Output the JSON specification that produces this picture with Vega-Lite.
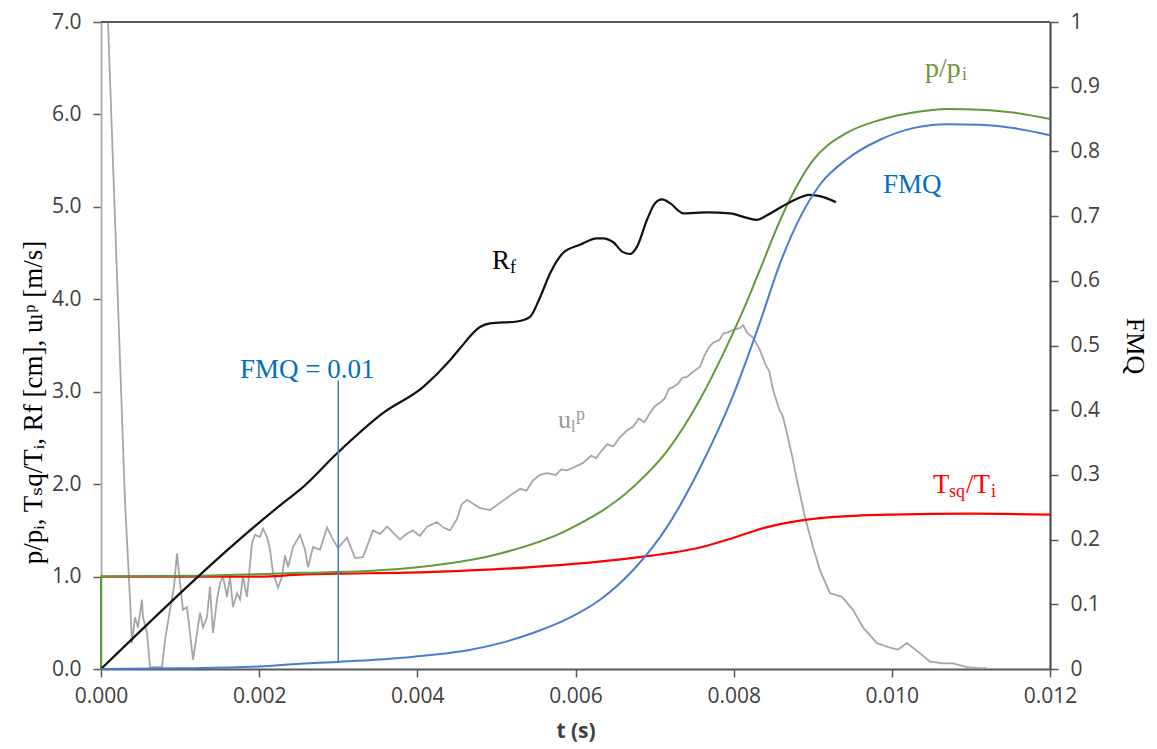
{
  "$schema": "https://vega.github.io/schema/vega-lite/v6.json",
  "width": 949,
  "height": 647,
  "autosize": {"type": "none"},
  "padding": {"left": 101, "top": 22, "right": 107, "bottom": 80},
  "background": "white",
  "config": {
    "view": {"stroke": null},
    "axisX": {
      "labelFont": "Liberation Sans Narrow, Open Sans, sans-serif",
      "labelFontSize": 21,
      "labelColor": "#404040",
      "labelFlush": false,
      "tickColor": "#595959",
      "tickWidth": 1.5,
      "tickSize": 8,
      "labelPadding": 8,
      "domainColor": "#595959",
      "domainWidth": 2,
      "titleFont": "Liberation Sans Narrow, Open Sans, sans-serif",
      "titleFontSize": 21,
      "titleFontWeight": "bold",
      "titleColor": "#404040",
      "titlePadding": 14,
      "grid": false
    },
    "axisLeft": {
      "labelFont": "Open Sans",
      "labelFontSize": 21,
      "labelColor": "#404040",
      "labelFlush": false,
      "tickColor": "#595959",
      "tickWidth": 1.5,
      "tickSize": 8,
      "labelPadding": 12,
      "domainColor": "#bfbfbf",
      "domainWidth": 2,
      "titleFont": "Liberation Serif, DejaVu Serif",
      "titleFontSize": 27,
      "titleFontWeight": "normal",
      "titleColor": "#000000",
      "titlePadding": 4,
      "grid": false
    },
    "axisRight": {
      "labelFont": "Open Sans",
      "labelFontSize": 21,
      "labelColor": "#404040",
      "labelFlush": false,
      "tickColor": "#595959",
      "tickWidth": 1.5,
      "tickSize": 8,
      "labelPadding": 12,
      "domainColor": "#404040",
      "domainWidth": 2,
      "titleFont": "Liberation Serif, DejaVu Serif",
      "titleFontSize": 26,
      "titleFontWeight": "normal",
      "titleColor": "#000000",
      "titlePadding": 22,
      "grid": false
    }
  },
  "datasets": {
    "rf": [
      {"t": 0, "v": 0}, {"t": 0.002352, "v": 1.83}, {"t": 0.002516, "v": 1.94}, {"t": 0.002993, "v": 2.34},
      {"t": 0.003568, "v": 2.77}, {"t": 0.004072, "v": 3.05}, {"t": 0.004413, "v": 3.34}, {"t": 0.00454, "v": 3.47},
      {"t": 0.004792, "v": 3.70}, {"t": 0.004919, "v": 3.74}, {"t": 0.005261, "v": 3.76}, {"t": 0.005425, "v": 3.81},
      {"t": 0.005551, "v": 4.02}, {"t": 0.005678, "v": 4.28}, {"t": 0.005842, "v": 4.50}, {"t": 0.006057, "v": 4.59},
      {"t": 0.006272, "v": 4.66}, {"t": 0.006348, "v": 4.66}, {"t": 0.006474, "v": 4.62}, {"t": 0.006601, "v": 4.51},
      {"t": 0.006689, "v": 4.49}, {"t": 0.006778, "v": 4.57}, {"t": 0.006904, "v": 4.86}, {"t": 0.007006, "v": 5.04},
      {"t": 0.007094, "v": 5.08}, {"t": 0.007195, "v": 5.04}, {"t": 0.00736, "v": 4.93}, {"t": 0.007663, "v": 4.94},
      {"t": 0.007954, "v": 4.93}, {"t": 0.008169, "v": 4.88}, {"t": 0.008295, "v": 4.86}, {"t": 0.008422, "v": 4.91},
      {"t": 0.008712, "v": 5.05}, {"t": 0.008965, "v": 5.13}, {"t": 0.009155, "v": 5.10}, {"t": 0.009294, "v": 5.05}
    ],
    "pp": [
      {"t": 0, "v": 0}, {"t": 0, "v": 1.0}, {"t": 0.00125, "v": 1.01}, {"t": 0.002516, "v": 1.04}, {"t": 0.00336, "v": 1.06},
      {"t": 0.0042, "v": 1.12}, {"t": 0.00505, "v": 1.25}, {"t": 0.00589, "v": 1.50}, {"t": 0.00673, "v": 1.97},
      {"t": 0.00716, "v": 2.36}, {"t": 0.00757, "v": 2.91}, {"t": 0.00789, "v": 3.45}, {"t": 0.00817, "v": 3.98},
      {"t": 0.00837, "v": 4.40}, {"t": 0.00855, "v": 4.78}, {"t": 0.00871, "v": 5.08}, {"t": 0.009, "v": 5.50},
      {"t": 0.00943, "v": 5.80}, {"t": 0.00985, "v": 5.94}, {"t": 0.01027, "v": 6.02}, {"t": 0.0107, "v": 6.06},
      {"t": 0.01112, "v": 6.05}, {"t": 0.01153, "v": 6.02}, {"t": 0.012, "v": 5.95}
    ],
    "tsq": [
      {"t": 0, "v": 1.0}, {"t": 0.002, "v": 1.0}, {"t": 0.0025, "v": 1.02}, {"t": 0.0042, "v": 1.05},
      {"t": 0.0054, "v": 1.10}, {"t": 0.0067, "v": 1.20}, {"t": 0.0076, "v": 1.32}, {"t": 0.008, "v": 1.42},
      {"t": 0.0084, "v": 1.53}, {"t": 0.0088, "v": 1.60}, {"t": 0.0092, "v": 1.64}, {"t": 0.01, "v": 1.67},
      {"t": 0.011, "v": 1.68}, {"t": 0.012, "v": 1.67}
    ],
    "ul": [
      {"t": 0, "v": 0}, {"t": 0, "v": 9.5}, {"t": 0.0000885, "v": 7.0}, {"t": 0.000303, "v": 1.83},
      {"t": 0.000367, "v": 0.75}, {"t": 0.000392, "v": 0.28}, {"t": 0.00043, "v": 0.56}, {"t": 0.000468, "v": 0.45},
      {"t": 0.000518, "v": 0.75}, {"t": 0.000531, "v": 0.56}, {"t": 0.000582, "v": 0.39}, {"t": 0.00062, "v": 0.02},
      {"t": 0.000771, "v": 0.02}, {"t": 0.000809, "v": 0.31}, {"t": 0.000872, "v": 0.64}, {"t": 0.000923, "v": 0.89},
      {"t": 0.000961, "v": 1.25}, {"t": 0.000999, "v": 0.93}, {"t": 0.001037, "v": 0.64}, {"t": 0.001087, "v": 0.67},
      {"t": 0.001125, "v": 0.39}, {"t": 0.001163, "v": 0.10}, {"t": 0.001214, "v": 0.39}, {"t": 0.001252, "v": 0.61},
      {"t": 0.00129, "v": 0.45}, {"t": 0.00134, "v": 0.56}, {"t": 0.001378, "v": 0.89}, {"t": 0.001416, "v": 0.39},
      {"t": 0.001467, "v": 0.75}, {"t": 0.001505, "v": 0.93}, {"t": 0.001543, "v": 1.00}, {"t": 0.001593, "v": 0.78},
      {"t": 0.001631, "v": 1.00}, {"t": 0.001669, "v": 0.67}, {"t": 0.00172, "v": 0.82}, {"t": 0.001758, "v": 0.75},
      {"t": 0.001796, "v": 1.00}, {"t": 0.001846, "v": 0.78}, {"t": 0.001909, "v": 1.36}, {"t": 0.001947, "v": 1.45},
      {"t": 0.002011, "v": 1.43}, {"t": 0.002048, "v": 1.52}, {"t": 0.002099, "v": 1.43}, {"t": 0.002137, "v": 1.29},
      {"t": 0.002175, "v": 1.04}, {"t": 0.002238, "v": 0.88}, {"t": 0.002289, "v": 1.00}, {"t": 0.002327, "v": 1.23},
      {"t": 0.002365, "v": 1.10}, {"t": 0.002428, "v": 1.32}, {"t": 0.002516, "v": 1.45}, {"t": 0.00258, "v": 1.29},
      {"t": 0.002618, "v": 1.10}, {"t": 0.002681, "v": 1.32}, {"t": 0.002769, "v": 1.29}, {"t": 0.002858, "v": 1.53},
      {"t": 0.002934, "v": 1.40}, {"t": 0.002997, "v": 1.31}, {"t": 0.003111, "v": 1.42}, {"t": 0.003212, "v": 1.20},
      {"t": 0.003313, "v": 1.21}, {"t": 0.003439, "v": 1.50}, {"t": 0.00353, "v": 1.46}, {"t": 0.003616, "v": 1.54},
      {"t": 0.0037, "v": 1.47}, {"t": 0.003781, "v": 1.40}, {"t": 0.00386, "v": 1.46}, {"t": 0.003945, "v": 1.50},
      {"t": 0.00403, "v": 1.44}, {"t": 0.004122, "v": 1.54}, {"t": 0.004249, "v": 1.59}, {"t": 0.00433, "v": 1.53},
      {"t": 0.004413, "v": 1.50}, {"t": 0.0045, "v": 1.62}, {"t": 0.00456, "v": 1.78}, {"t": 0.004628, "v": 1.83},
      {"t": 0.004792, "v": 1.74}, {"t": 0.004919, "v": 1.72}, {"t": 0.00505, "v": 1.80}, {"t": 0.00521, "v": 1.90},
      {"t": 0.0053, "v": 1.95}, {"t": 0.00538, "v": 1.93}, {"t": 0.005463, "v": 2.04}, {"t": 0.00555, "v": 2.10},
      {"t": 0.00564, "v": 2.12}, {"t": 0.00575, "v": 2.10}, {"t": 0.00582, "v": 2.16}, {"t": 0.005893, "v": 2.15},
      {"t": 0.006, "v": 2.19}, {"t": 0.006095, "v": 2.23}, {"t": 0.0062, "v": 2.31}, {"t": 0.00626, "v": 2.28},
      {"t": 0.00631, "v": 2.34}, {"t": 0.0064, "v": 2.43}, {"t": 0.00648, "v": 2.41}, {"t": 0.006563, "v": 2.51},
      {"t": 0.00665, "v": 2.58}, {"t": 0.006727, "v": 2.62}, {"t": 0.0068, "v": 2.71}, {"t": 0.00687, "v": 2.67},
      {"t": 0.006942, "v": 2.77}, {"t": 0.007, "v": 2.84}, {"t": 0.007069, "v": 2.88}, {"t": 0.00713, "v": 2.93},
      {"t": 0.00718, "v": 3.03}, {"t": 0.007233, "v": 3.05}, {"t": 0.0073, "v": 3.09}, {"t": 0.00735, "v": 3.15},
      {"t": 0.00741, "v": 3.16}, {"t": 0.00748, "v": 3.21}, {"t": 0.007574, "v": 3.27}, {"t": 0.00763, "v": 3.39},
      {"t": 0.00768, "v": 3.47}, {"t": 0.007739, "v": 3.53}, {"t": 0.00782, "v": 3.56}, {"t": 0.00787, "v": 3.63},
      {"t": 0.007916, "v": 3.64}, {"t": 0.008, "v": 3.67}, {"t": 0.00808, "v": 3.69}, {"t": 0.00812, "v": 3.72},
      {"t": 0.008169, "v": 3.64}, {"t": 0.00825, "v": 3.58}, {"t": 0.008333, "v": 3.45}, {"t": 0.0084, "v": 3.30},
      {"t": 0.00845, "v": 3.22}, {"t": 0.008497, "v": 3.02}, {"t": 0.00858, "v": 2.80}, {"t": 0.00862, "v": 2.74},
      {"t": 0.008674, "v": 2.55}, {"t": 0.00874, "v": 2.30}, {"t": 0.008801, "v": 2.04}, {"t": 0.00885, "v": 1.85},
      {"t": 0.008902, "v": 1.64}, {"t": 0.009003, "v": 1.32}, {"t": 0.009091, "v": 1.07}, {"t": 0.009218, "v": 0.82},
      {"t": 0.00937, "v": 0.78}, {"t": 0.009509, "v": 0.64}, {"t": 0.009635, "v": 0.45}, {"t": 0.009812, "v": 0.28},
      {"t": 0.009977, "v": 0.23}, {"t": 0.010078, "v": 0.21}, {"t": 0.010192, "v": 0.28}, {"t": 0.010356, "v": 0.17},
      {"t": 0.010483, "v": 0.08}, {"t": 0.010647, "v": 0.06}, {"t": 0.010773, "v": 0.06}, {"t": 0.01095, "v": 0.02},
      {"t": 0.011115, "v": 0.01}, {"t": 0.011203, "v": 0.01}
    ],
    "fmq": [
      {"t": 0, "f": 0}, {"t": 0.001, "f": 0.001}, {"t": 0.002, "f": 0.004}, {"t": 0.002516, "f": 0.008},
      {"t": 0.003, "f": 0.011}, {"t": 0.00378, "f": 0.017}, {"t": 0.0042, "f": 0.022}, {"t": 0.00464, "f": 0.029},
      {"t": 0.00505, "f": 0.040}, {"t": 0.00547, "f": 0.056}, {"t": 0.00589, "f": 0.077}, {"t": 0.00631, "f": 0.107},
      {"t": 0.00673, "f": 0.153}, {"t": 0.00716, "f": 0.220}, {"t": 0.00757, "f": 0.310}, {"t": 0.008, "f": 0.425},
      {"t": 0.00833, "f": 0.535}, {"t": 0.00859, "f": 0.628}, {"t": 0.00884, "f": 0.698}, {"t": 0.0091, "f": 0.750},
      {"t": 0.009433, "f": 0.788}, {"t": 0.00985, "f": 0.818}, {"t": 0.010268, "f": 0.836}, {"t": 0.010698, "f": 0.842},
      {"t": 0.011115, "f": 0.841}, {"t": 0.011532, "f": 0.836}, {"t": 0.012, "f": 0.825}
    ],
    "guide": [{"t": 0.003, "v0": 0.07, "v1": 3.12}],
    "labels": [
      {"id": "pp", "t": 0.010419, "v": 6.40, "label": "p/p"},
      {"id": "pp_sub", "t": 0.010419, "v": 6.40, "label": "i"},
      {"id": "fmq", "t": 0.009888, "v": 5.15, "label": "FMQ"},
      {"id": "rf", "t": 0.004944, "v": 4.33, "label": "R"},
      {"id": "rf_sub", "t": 0.004944, "v": 4.33, "label": "f"},
      {"id": "fmq01", "t": 0.001758, "v": 3.15, "label": "FMQ = 0.01"},
      {"id": "ul", "t": 0.005779, "v": 2.61, "label": "u"},
      {"id": "ul_sub", "t": 0.005779, "v": 2.61, "label": "l"},
      {"id": "ul_sup", "t": 0.005779, "v": 2.61, "label": "p"},
      {"id": "tsq_T", "t": 0.010521, "v": 1.904, "label": "T"},
      {"id": "tsq_sub", "t": 0.010521, "v": 1.904, "label": "sq"},
      {"id": "tsq_T2", "t": 0.010521, "v": 1.904, "label": "/T"},
      {"id": "tsq_i", "t": 0.010521, "v": 1.904, "label": "i"}
    ]
  },
  "layer": [
    {
      "layer": [
        {
          "data": {"name": "ul"},
          "mark": {"type": "line", "color": "#a6a6a6", "strokeWidth": 1.8, "clip": true},
          "encoding": {
            "x": {"field": "t", "type": "quantitative", "scale": {"domain": [0, 0.012], "nice": false},
                  "axis": {"title": "t (s)", "values": [0, 0.002, 0.004, 0.006, 0.008, 0.01, 0.012], "format": ".3f"}},
            "y": {"field": "v", "type": "quantitative", "scale": {"domain": [0, 7], "nice": false},
                  "axis": {"orient": "left", "title": "p/pᵢ, Tₛq/Tᵢ, Rf [cm], uₗᵖ [m/s]", "values": [0, 1, 2, 3, 4, 5, 6, 7], "format": ".1f", "titleY": 380}}
          }
        },
        {
          "data": {"name": "tsq"},
          "mark": {"type": "line", "color": "#ff0000", "strokeWidth": 2.2, "interpolate": "monotone"},
          "encoding": {
            "x": {"field": "t", "type": "quantitative", "scale": {"domain": [0, 0.012], "nice": false}},
            "y": {"field": "v", "type": "quantitative", "scale": {"domain": [0, 7], "nice": false}}
          }
        },
        {
          "data": {"name": "pp"},
          "mark": {"type": "line", "color": "#62993b", "strokeWidth": 2, "interpolate": "monotone"},
          "encoding": {
            "x": {"field": "t", "type": "quantitative", "scale": {"domain": [0, 0.012], "nice": false}},
            "y": {"field": "v", "type": "quantitative", "scale": {"domain": [0, 7], "nice": false}}
          }
        },
        {
          "data": {"name": "rf"},
          "mark": {"type": "line", "color": "#111111", "strokeWidth": 2.2, "interpolate": "monotone"},
          "encoding": {
            "x": {"field": "t", "type": "quantitative", "scale": {"domain": [0, 0.012], "nice": false}},
            "y": {"field": "v", "type": "quantitative", "scale": {"domain": [0, 7], "nice": false}}
          }
        },
        {
          "data": {"name": "guide"},
          "mark": {"type": "rule", "color": "#4a7cd0", "strokeWidth": 1.5},
          "encoding": {
            "x": {"field": "t", "type": "quantitative", "scale": {"domain": [0, 0.012], "nice": false}},
            "y": {"field": "v0", "type": "quantitative", "scale": {"domain": [0, 7], "nice": false}},
            "y2": {"field": "v1"}
          }
        },
        {
          "data": {"values": [{}]},
          "mark": {"type": "rule", "color": "#595959", "strokeWidth": 2},
          "encoding": {"y": {"datum": 7, "type": "quantitative", "scale": {"domain": [0, 7], "nice": false}}}
        },
        {
          "data": {"name": "labels"},
          "transform": [{"filter": "datum.id === 'pp'"}],
          "mark": {"type": "text", "align": "left", "baseline": "alphabetic", "font": "Liberation Serif", "fontSize": 28, "color": "#77933c"},
          "encoding": {
            "x": {"field": "t", "type": "quantitative", "scale": {"domain": [0, 0.012], "nice": false}},
            "y": {"field": "v", "type": "quantitative", "scale": {"domain": [0, 7], "nice": false}},
            "text": {"field": "label"}
          }
        },
        {
          "data": {"name": "labels"},
          "transform": [{"filter": "datum.id === 'pp_sub'"}],
          "mark": {"type": "text", "align": "left", "baseline": "alphabetic", "font": "Liberation Serif", "fontSize": 18, "color": "#77933c", "dx": 37, "dy": 3},
          "encoding": {
            "x": {"field": "t", "type": "quantitative", "scale": {"domain": [0, 0.012], "nice": false}},
            "y": {"field": "v", "type": "quantitative", "scale": {"domain": [0, 7], "nice": false}},
            "text": {"field": "label"}
          }
        },
        {
          "data": {"name": "labels"},
          "transform": [{"filter": "datum.id === 'fmq' || datum.id === 'fmq01'"}],
          "mark": {"type": "text", "align": "left", "baseline": "alphabetic", "font": "Liberation Serif", "fontSize": 27, "color": "#0070c0"},
          "encoding": {
            "x": {"field": "t", "type": "quantitative", "scale": {"domain": [0, 0.012], "nice": false}},
            "y": {"field": "v", "type": "quantitative", "scale": {"domain": [0, 7], "nice": false}},
            "text": {"field": "label"}
          }
        },
        {
          "data": {"name": "labels"},
          "transform": [{"filter": "datum.id === 'rf'"}],
          "mark": {"type": "text", "align": "left", "baseline": "alphabetic", "font": "Liberation Serif", "fontSize": 27, "color": "#000000"},
          "encoding": {
            "x": {"field": "t", "type": "quantitative", "scale": {"domain": [0, 0.012], "nice": false}},
            "y": {"field": "v", "type": "quantitative", "scale": {"domain": [0, 7], "nice": false}},
            "text": {"field": "label"}
          }
        },
        {
          "data": {"name": "labels"},
          "transform": [{"filter": "datum.id === 'rf_sub'"}],
          "mark": {"type": "text", "align": "left", "baseline": "alphabetic", "font": "Liberation Serif", "fontSize": 18, "color": "#000000", "dx": 18, "dy": 4},
          "encoding": {
            "x": {"field": "t", "type": "quantitative", "scale": {"domain": [0, 0.012], "nice": false}},
            "y": {"field": "v", "type": "quantitative", "scale": {"domain": [0, 7], "nice": false}},
            "text": {"field": "label"}
          }
        },
        {
          "data": {"name": "labels"},
          "transform": [{"filter": "datum.id === 'ul'"}],
          "mark": {"type": "text", "align": "left", "baseline": "alphabetic", "font": "Liberation Serif", "fontSize": 26, "color": "#9a9a9a"},
          "encoding": {
            "x": {"field": "t", "type": "quantitative", "scale": {"domain": [0, 0.012], "nice": false}},
            "y": {"field": "v", "type": "quantitative", "scale": {"domain": [0, 7], "nice": false}},
            "text": {"field": "label"}
          }
        },
        {
          "data": {"name": "labels"},
          "transform": [{"filter": "datum.id === 'ul_sub'"}],
          "mark": {"type": "text", "align": "left", "baseline": "alphabetic", "font": "Liberation Serif", "fontSize": 16, "color": "#9a9a9a", "dx": 13, "dy": 4},
          "encoding": {
            "x": {"field": "t", "type": "quantitative", "scale": {"domain": [0, 0.012], "nice": false}},
            "y": {"field": "v", "type": "quantitative", "scale": {"domain": [0, 7], "nice": false}},
            "text": {"field": "label"}
          }
        },
        {
          "data": {"name": "labels"},
          "transform": [{"filter": "datum.id === 'ul_sup'"}],
          "mark": {"type": "text", "align": "left", "baseline": "alphabetic", "font": "Liberation Serif", "fontSize": 18, "color": "#9a9a9a", "dx": 18, "dy": -8},
          "encoding": {
            "x": {"field": "t", "type": "quantitative", "scale": {"domain": [0, 0.012], "nice": false}},
            "y": {"field": "v", "type": "quantitative", "scale": {"domain": [0, 7], "nice": false}},
            "text": {"field": "label"}
          }
        },
        {
          "data": {"name": "labels"},
          "transform": [{"filter": "datum.id === 'tsq_T'"}],
          "mark": {"type": "text", "align": "left", "baseline": "alphabetic", "font": "Liberation Serif", "fontSize": 27, "color": "#ff0000"},
          "encoding": {
            "x": {"field": "t", "type": "quantitative", "scale": {"domain": [0, 0.012], "nice": false}},
            "y": {"field": "v", "type": "quantitative", "scale": {"domain": [0, 7], "nice": false}},
            "text": {"field": "label"}
          }
        },
        {
          "data": {"name": "labels"},
          "transform": [{"filter": "datum.id === 'tsq_sub'"}],
          "mark": {"type": "text", "align": "left", "baseline": "alphabetic", "font": "Liberation Serif", "fontSize": 18, "color": "#ff0000", "dx": 16, "dy": 4},
          "encoding": {
            "x": {"field": "t", "type": "quantitative", "scale": {"domain": [0, 0.012], "nice": false}},
            "y": {"field": "v", "type": "quantitative", "scale": {"domain": [0, 7], "nice": false}},
            "text": {"field": "label"}
          }
        },
        {
          "data": {"name": "labels"},
          "transform": [{"filter": "datum.id === 'tsq_T2'"}],
          "mark": {"type": "text", "align": "left", "baseline": "alphabetic", "font": "Liberation Serif", "fontSize": 27, "color": "#ff0000", "dx": 33},
          "encoding": {
            "x": {"field": "t", "type": "quantitative", "scale": {"domain": [0, 0.012], "nice": false}},
            "y": {"field": "v", "type": "quantitative", "scale": {"domain": [0, 7], "nice": false}},
            "text": {"field": "label"}
          }
        },
        {
          "data": {"name": "labels"},
          "transform": [{"filter": "datum.id === 'tsq_i'"}],
          "mark": {"type": "text", "align": "left", "baseline": "alphabetic", "font": "Liberation Serif", "fontSize": 18, "color": "#ff0000", "dx": 58, "dy": 4},
          "encoding": {
            "x": {"field": "t", "type": "quantitative", "scale": {"domain": [0, 0.012], "nice": false}},
            "y": {"field": "v", "type": "quantitative", "scale": {"domain": [0, 7], "nice": false}},
            "text": {"field": "label"}
          }
        }
      ]
    },
    {
      "data": {"name": "fmq"},
      "mark": {"type": "line", "color": "#4a7cd0", "strokeWidth": 2, "interpolate": "monotone"},
      "encoding": {
        "x": {"field": "t", "type": "quantitative", "scale": {"domain": [0, 0.012], "nice": false}},
        "y": {"field": "f", "type": "quantitative", "scale": {"domain": [0, 1], "nice": false},
              "axis": {"orient": "right", "title": "FMQ", "values": [0, 0.1, 0.2, 0.3, 0.4, 0.5, 0.6, 0.7, 0.8, 0.9, 1], "format": "~g"}}
      }
    }
  ],
  "resolve": {"scale": {"y": "independent"}}
}
